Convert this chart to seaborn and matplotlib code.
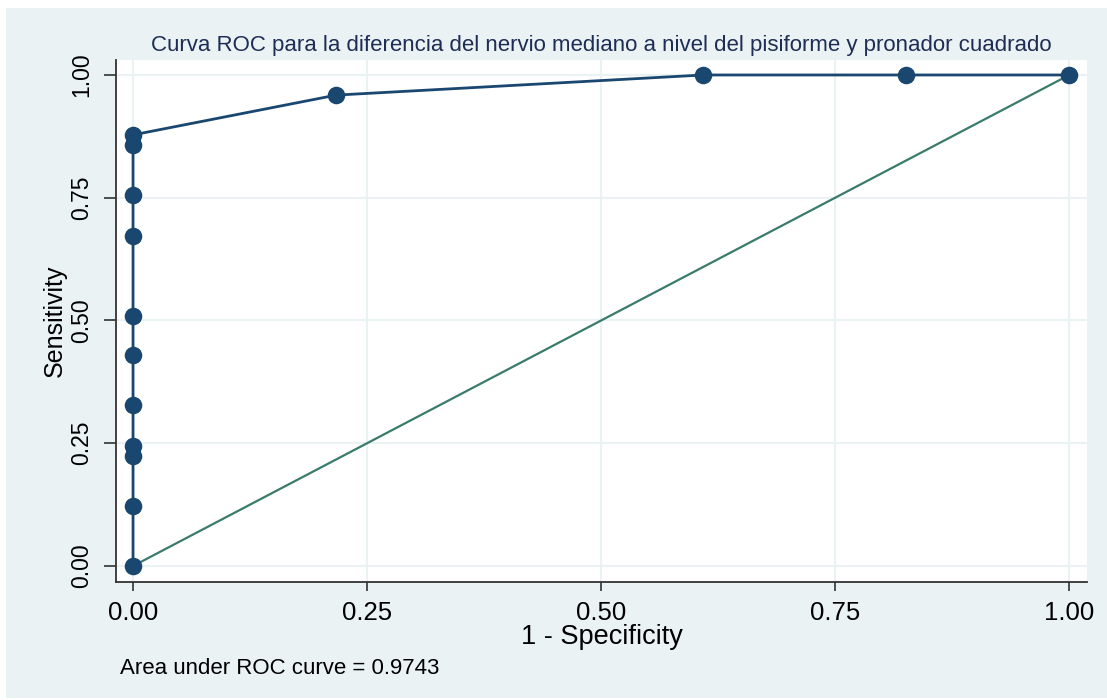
import matplotlib
matplotlib.use("Agg")
import matplotlib.pyplot as plt
import seaborn as sns
import pandas as pd
from matplotlib.patches import Rectangle

# ---- data ----
fpr = [0.0, 0.0, 0.0, 0.0, 0.0, 0.0, 0.0, 0.0, 0.0, 0.0, 0.0, 0.217, 0.609, 0.826, 1.0]
tpr = [0.0, 0.122, 0.224, 0.245, 0.327, 0.429, 0.510, 0.673, 0.755, 0.857, 0.878, 0.959, 1.0, 1.0, 1.0]
ref_x = [0.0, 1.0]
ref_y = [0.0, 1.0]
ticks = [0.0, 0.25, 0.5, 0.75, 1.0]
tick_labels = ["0.00", "0.25", "0.50", "0.75", "1.00"]
title = "Curva ROC para la diferencia del nervio mediano a nivel del pisiforme y pronador cuadrado"
auc_text = "Area under ROC curve = 0.9743"

sns.set_theme(style="white")
plt.rcParams["font.family"] = ["Liberation Sans", "DejaVu Sans"]

BG = "#EAF2F3"
NAVY = "#1A476F"
GREEN = "#3A7B6C"

W, H = 1107, 700
fig = plt.figure(figsize=(W / 100, H / 100), dpi=100, facecolor="white")
fig.patches.append(Rectangle((6 / W, 2 / H), 1 - 6 / W, (H - 10) / H,
                             transform=fig.transFigure, facecolor=BG,
                             edgecolor="none", zorder=-10))

ax = fig.add_axes([116 / W, 1 - 582 / H, (1087 - 116) / W, (582 - 60) / H])
ax.set_facecolor("white")

df = pd.DataFrame({"fpr": fpr, "tpr": tpr})
dref = pd.DataFrame({"x": ref_x, "y": ref_y})

sns.lineplot(data=dref, x="x", y="y", ax=ax, color=GREEN, lw=1.6,
             sort=False, estimator=None, zorder=2)
sns.lineplot(data=df, x="fpr", y="tpr", ax=ax, color=NAVY, lw=2.0,
             sort=False, estimator=None, zorder=3)
sns.scatterplot(data=df, x="fpr", y="tpr", ax=ax, color=NAVY, s=160,
                edgecolor=NAVY, linewidth=0, zorder=4)

ax.set_xlim(-0.0182, 1.019)
ax.set_ylim(-0.0326, 1.0305)
ax.set_xticks(ticks)
ax.set_xticklabels(tick_labels, fontsize=18.5, color="black")
ax.set_yticks(ticks)
ax.set_yticklabels(tick_labels, fontsize=16.5, color="black", rotation=90, va="center")

ax.grid(True, color=BG, lw=1.5)
ax.set_axisbelow(True)

for s in ["top", "right"]:
    ax.spines[s].set_visible(False)
for s in ["left", "bottom"]:
    ax.spines[s].set_color("#333333")
    ax.spines[s].set_linewidth(1.3)

ax.tick_params(axis="both", which="both", direction="out", width=1.2,
               color="#333333", left=True, bottom=True)
ax.tick_params(axis="x", length=6.5, pad=7)
ax.tick_params(axis="y", length=8.6, pad=8)

ax.set_xlabel("1 - Specificity", fontsize=19.5, color="black")
ax.set_ylabel("Sensitivity", fontsize=18, color="black")
ax.xaxis.set_label_coords((602 - 116) / 971, (582 - 624) / 522)
ax.yaxis.set_label_coords((67 - 116) / 971, 0.5)

fig.text(601 / W, 1 - 46 / H, title, ha="center", va="center",
         fontsize=16, color="#1E2D55")
fig.text(120 / W, 1 - 668 / H, auc_text, ha="left", va="center",
         fontsize=16, color="black")

fig.savefig("out.png", dpi=100, facecolor="white")
